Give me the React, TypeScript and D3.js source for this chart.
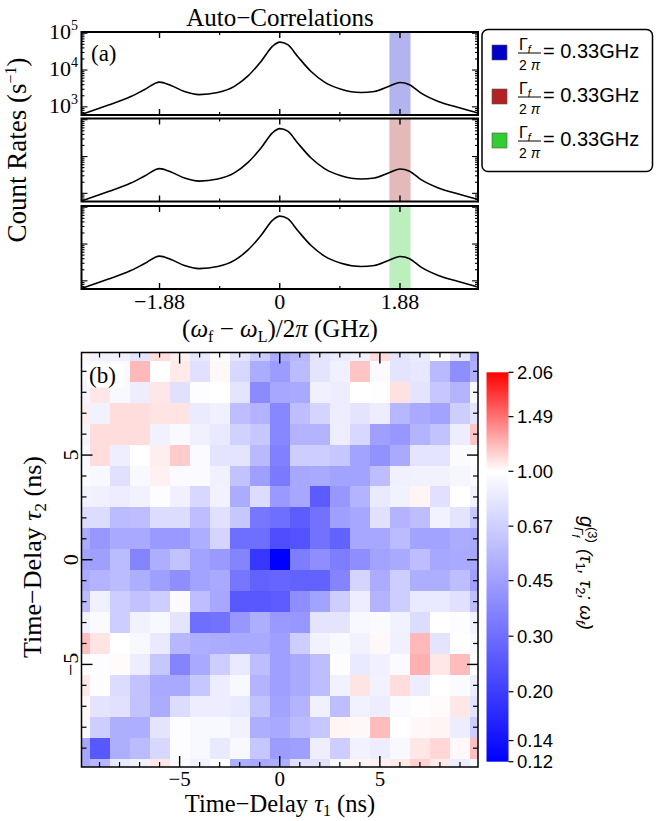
import React from 'react';
import * as d3 from 'd3';

const SERIF = '"Liberation Serif", "Times New Roman", serif';
const SANS = '"Liberation Sans", Arial, sans-serif';

// (a) spectrum: detuning (GHz) vs count rate (1/s)
const detuning = [-3.1, -2.69, -2.33, -2.12, -1.88, -1.7, -1.49, -1.26, -0.97, -0.71, -0.5, -0.29, -0.11, 0, 0.125, 0.28, 0.49, 0.7, 0.96, 1.27, 1.48, 1.69, 1.88, 2.03, 2.21, 2.48, 2.74, 3.1];
const countRate = [620, 1100, 1900, 2900, 4700, 3800, 2600, 2150, 2450, 3600, 6800, 17400, 44700, 57500, 49000, 23400, 9100, 4700, 3000, 2450, 2600, 3500, 4600, 4000, 2350, 1400, 1020, 680];

const filterCenter = 1.88;
const filterWidth = 0.33;
const swatchColors = ['#0000c8', '#b22222', '#33cc33'];
const bandColors = ['#b3b3ee', '#e3b9b9', '#bdeebd'];
const legendValues = ['0.33GHz', '0.33GHz', '0.33GHz'];
const specMajor = [-1.88, 0, 1.88];
const specMajorLabels = ['\u22121.88', '0', '1.88'];
const specMinor = [-0.94, 0.94];
const decades = [1e3, 1e4, 1e5];
const decadeExp = ['3', '4', '5'];

// (b) g3 map: rows tau2 = 10 .. -10, columns tau1 = -10 .. 10
const tau1 = [-10, -9, -8, -7, -6, -5, -4, -3, -2, -1, 0, 1, 2, 3, 4, 5, 6, 7, 8, 9, 10];
const tau2 = [10, 9, 8, 7, 6, 5, 4, 3, 2, 1, 0, -1, -2, -3, -4, -5, -6, -7, -8, -9, -10];
const g3 = [
  [1.03, 0.9, 0.9, 0.8, 1.1, 1.04, 0.82, 0.98, 0.8, 0.65, 0.5, 0.55, 0.8, 0.85, 0.88, 1.1, 0.8, 0.85, 1.0, 0.8, 0.48],
  [0.95, 0.95, 0.95, 1.22, 1.0, 1.06, 0.78, 1.02, 0.72, 0.5, 0.44, 0.57, 0.8, 0.88, 1.18, 0.96, 0.8, 0.82, 0.56, 0.39, 0.52],
  [0.92, 1.07, 0.94, 0.86, 1.07, 0.78, 0.98, 1.0, 0.8, 0.38, 0.48, 0.49, 0.88, 0.86, 1.0, 0.99, 1.09, 0.8, 0.63, 0.53, 0.94],
  [1.05, 0.9, 1.1, 1.1, 1.08, 1.08, 0.85, 0.88, 0.58, 0.53, 0.37, 0.58, 0.7, 0.86, 0.8, 0.86, 0.55, 0.49, 0.46, 0.66, 0.8],
  [0.92, 1.1, 1.1, 1.1, 0.9, 0.95, 0.88, 0.83, 0.68, 0.63, 0.37, 0.53, 0.53, 0.87, 0.72, 0.45, 0.42, 0.53, 0.6, 0.86, 1.18],
  [0.94, 1.1, 0.87, 1.0, 1.05, 1.16, 0.96, 0.8, 0.8, 0.56, 0.35, 0.66, 0.66, 0.63, 0.46, 0.4, 0.49, 0.8, 0.8, 0.96, 1.0],
  [0.96, 0.94, 0.78, 0.94, 1.04, 0.96, 0.96, 0.88, 0.6, 0.45, 0.33, 0.48, 0.49, 0.46, 0.46, 0.58, 0.88, 0.9, 0.9, 0.93, 0.96],
  [0.9, 0.88, 0.86, 0.9, 0.98, 0.88, 0.72, 0.9, 0.5, 0.75, 0.43, 0.48, 0.26, 0.42, 0.53, 0.83, 0.9, 1.03, 0.78, 1.0, 0.9],
  [0.75, 0.75, 0.57, 0.58, 0.75, 0.75, 0.58, 0.78, 0.63, 0.32, 0.3, 0.26, 0.31, 0.45, 0.48, 0.78, 0.53, 0.58, 0.9, 0.8, 0.63],
  [0.5, 0.42, 0.49, 0.49, 0.43, 0.43, 0.51, 0.7, 0.3, 0.3, 0.23, 0.24, 0.31, 0.27, 0.48, 0.48, 0.57, 0.46, 0.46, 0.5, 0.49],
  [0.46, 0.45, 0.57, 0.36, 0.51, 0.6, 0.46, 0.43, 0.36, 0.19, 0.12, 0.34, 0.39, 0.34, 0.39, 0.46, 0.49, 0.58, 0.48, 0.49, 0.48],
  [0.5, 0.53, 0.57, 0.51, 0.45, 0.39, 0.46, 0.49, 0.32, 0.27, 0.28, 0.27, 0.27, 0.36, 0.7, 0.5, 0.66, 0.51, 0.51, 0.58, 0.45],
  [0.57, 0.88, 0.66, 0.6, 0.66, 0.96, 0.58, 0.48, 0.25, 0.25, 0.26, 0.39, 0.46, 0.66, 0.86, 0.53, 0.66, 0.83, 0.83, 0.78, 0.58],
  [0.9, 0.96, 0.66, 0.9, 0.94, 0.8, 0.3, 0.31, 0.42, 0.51, 0.43, 0.42, 0.8, 0.8, 0.94, 0.96, 0.9, 0.75, 1.0, 0.98, 0.9],
  [1.2, 1.08, 1.0, 0.94, 0.83, 0.55, 0.51, 0.5, 0.49, 0.49, 0.45, 0.66, 0.9, 0.94, 0.9, 1.02, 0.88, 1.22, 0.8, 0.99, 0.94],
  [1.0, 0.98, 1.01, 0.86, 0.63, 0.36, 0.49, 0.66, 0.83, 0.58, 0.45, 0.49, 0.58, 0.98, 0.83, 0.88, 0.96, 1.25, 1.07, 1.21, 0.99],
  [1.06, 0.98, 0.75, 0.6, 0.49, 0.49, 0.63, 0.86, 0.94, 0.53, 0.45, 0.49, 0.58, 0.9, 1.08, 0.9, 1.1, 0.86, 1.0, 0.96, 0.86],
  [1.02, 0.8, 0.78, 0.6, 0.5, 0.75, 0.86, 0.86, 0.83, 0.6, 0.46, 0.53, 0.88, 0.58, 0.9, 0.86, 0.96, 0.99, 1.01, 1.07, 0.8],
  [0.94, 0.66, 0.51, 0.51, 0.8, 0.98, 0.94, 0.94, 0.9, 0.51, 0.49, 0.57, 0.63, 1.03, 1.02, 1.21, 1.0, 1.02, 1.03, 0.86, 0.66],
  [0.48, 0.25, 0.51, 0.57, 0.72, 0.98, 0.94, 0.83, 0.94, 0.63, 0.44, 0.45, 0.87, 0.66, 0.9, 0.86, 0.94, 1.07, 1.12, 1.02, 1.2],
  [0.49, 0.55, 0.83, 0.9, 1.07, 0.96, 0.9, 1.0, 0.51, 0.49, 0.51, 0.78, 0.78, 0.94, 1.03, 1.04, 1.06, 1.14, 1.06, 0.86, 0.94],
];
const cbarTicks = [2.06, 1.49, 1.0, 0.67, 0.45, 0.3, 0.2, 0.14, 0.12];
const mapMajor = [-5, 0, 5];
const mapMajorLabels = ['\u22125', '0', '5'];
const mapMinor = [-9, -8, -7, -6, -4, -3, -2, -1, 1, 2, 3, 4, 6, 7, 8, 9];

export default function App() {
  // spectrum panels
  const x = d3.scaleLinear().domain([-3.1, 3.1]).range([81.5, 478]);
  const panelTops = [32, 118.5, 206];
  const panelH = 83;
  const spec = detuning.map((d, i) => [d, countRate[i]] as [number, number]);

  // map
  const hx = d3.scaleLinear().domain([-9.9, 9.9]).range([81.5, 478]);
  const hy = d3.scaleLinear().domain([-9.9, 9.9]).range([767, 352.5]);
  const color = d3.scaleLog<string>().domain([0.12, 1, 2.06]).range(['#0000ff', '#ffffff', '#ff0000']).clamp(true);
  const cy = d3.scaleLog().domain([0.12, 2.06]).range([761.7, 372.3]);
  const whiteStop = (cy(0.12) - cy(1)) / (cy(0.12) - cy(2.06));
  const [mx0, mx1] = hx.range();
  const [my0, my1] = [hy(9.9), hy(-9.9)];

  return (
    <svg width={660} height={821} style={{position: 'absolute', left: 0, top: 0, background: '#fff'}}>
      <defs>
        <clipPath id="mapclip">
          <rect x={mx0} y={my0} width={mx1 - mx0} height={my1 - my0}/>
        </clipPath>
        <linearGradient id="cbar" x1="0" y1="1" x2="0" y2="0">
          <stop offset="0" stopColor={color(0.12)}/>
          <stop offset={whiteStop} stopColor={color(1)}/>
          <stop offset="1" stopColor={color(2.06)}/>
        </linearGradient>
      </defs>

      <text x={280} y={26} textAnchor="middle" fontFamily={SERIF} fontSize={25}>Auto{'\u2212'}Correlations</text>

      {panelTops.map((top, p) => {
        const y = d3.scaleLog().domain([600, 108000]).range([top + panelH, top]);
        const line = d3.line<[number, number]>()
          .x(d => x(d[0]))
          .y(d => y(d[1]))
          .curve(d3.curveMonotoneX);
        const yTicks = y.ticks();
        const bot = top + panelH;
        return (
          <g key={p}>
            <rect x={x(filterCenter - filterWidth / 2)} y={top} width={x(filterCenter + filterWidth / 2) - x(filterCenter - filterWidth / 2)} height={panelH} fill={bandColors[p]}/>
            <path d={line(spec) || ''} fill="none" stroke="#000" strokeWidth={1.6}/>
            {specMajor.map(t => (
              <g key={t}>
                <line x1={x(t)} x2={x(t)} y1={top} y2={top + 6} stroke="#000" strokeWidth={1.4}/>
                <line x1={x(t)} x2={x(t)} y1={bot} y2={bot - 6} stroke="#000" strokeWidth={1.4}/>
              </g>
            ))}
            {specMinor.map(t => (
              <g key={t}>
                <line x1={x(t)} x2={x(t)} y1={top} y2={top + 3} stroke="#000" strokeWidth={1.2}/>
                <line x1={x(t)} x2={x(t)} y1={bot} y2={bot - 3} stroke="#000" strokeWidth={1.2}/>
              </g>
            ))}
            {yTicks.map(t => {
              const major = Math.abs(Math.log10(t) - Math.round(Math.log10(t))) < 1e-9;
              const len = major ? 6 : 3;
              return (
                <g key={t}>
                  <line x1={81.5} x2={81.5 + len} y1={y(t)} y2={y(t)} stroke="#000" strokeWidth={1.1}/>
                  <line x1={478} x2={478 - len} y1={y(t)} y2={y(t)} stroke="#000" strokeWidth={1.1}/>
                </g>
              );
            })}
            <rect x={81.5} y={top} width={478 - 81.5} height={panelH} fill="none" stroke="#000" strokeWidth={2}/>
            {p === 0 && decades.map((d, i) => (
              <text key={d} x={78} y={y(d) + 6} textAnchor="end" fontFamily={SERIF} fontSize={22}>
                10<tspan dy={-9} fontSize={14}>{decadeExp[i]}</tspan>
              </text>
            ))}
            {p === 0 && <text x={91} y={61} fontFamily={SERIF} fontSize={23}>(a)</text>}
          </g>
        );
      })}

      {specMajor.map((t, i) => (
        <text key={t} x={x(t)} y={309} textAnchor="middle" fontFamily={SERIF} fontSize={22}>{specMajorLabels[i]}</text>
      ))}
      <text x={280} y={337} textAnchor="middle" fontFamily={SERIF} fontSize={25}>
        (<tspan fontStyle="italic">ω</tspan><tspan dy={5} fontSize={16}>f</tspan><tspan dy={-5}> {'\u2212'} </tspan><tspan fontStyle="italic">ω</tspan><tspan dy={5} fontSize={16}>L</tspan><tspan dy={-5}>)/2</tspan><tspan fontStyle="italic">π</tspan> (GHz)
      </text>
      <text transform="translate(26,150) rotate(-90)" textAnchor="middle" fontFamily={SERIF} fontSize={27}>
        Count Rates (s<tspan dy={-10} fontSize={16}>{'\u2212'}1</tspan><tspan dy={10}>)</tspan>
      </text>

      {/* legend */}
      <rect x={482} y={29.5} width={170.5} height={142} rx={6} fill="#fff" stroke="#000" strokeWidth={1.5}/>
      {swatchColors.map((c, i) => {
        const oy = i * 44;
        return (
          <g key={i} fontFamily={SANS}>
            <rect x={492} y={45 + oy} width={15} height={15} fill={c} stroke="#555" strokeWidth={0.6}/>
            <text x={519} y={50 + oy} fontSize={16}>Γ<tspan dy={3} fontSize={11} fontStyle="italic">f</tspan></text>
            <line x1={518} x2={541} y1={53 + oy} y2={53 + oy} stroke="#000" strokeWidth={1}/>
            <text x={529.5} y={70 + oy} fontSize={14} textAnchor="middle">2 <tspan fontStyle="italic">π</tspan></text>
            <text x={543} y={58 + oy} fontSize={20}>= {legendValues[i]}</text>
          </g>
        );
      })}

      {/* map */}
      <g clipPath="url(#mapclip)" shapeRendering="crispEdges">
        {g3.map((row, r) => row.map((v, c) => (
          <rect key={r + '-' + c}
            x={hx(tau1[c] - 0.5)} y={hy(tau2[r] + 0.5)}
            width={hx(tau1[c] + 0.5) - hx(tau1[c] - 0.5) + 0.5}
            height={hy(tau2[r] - 0.5) - hy(tau2[r] + 0.5) + 0.5}
            fill={color(v)}/>
        )))}
      </g>
      {mapMajor.map(t => (
        <g key={t} stroke="#000" strokeWidth={1.4}>
          <line x1={hx(t)} x2={hx(t)} y1={my0} y2={my0 + 11}/>
          <line x1={hx(t)} x2={hx(t)} y1={my1} y2={my1 - 11}/>
          <line x1={mx0} x2={mx0 + 11} y1={hy(t)} y2={hy(t)}/>
          <line x1={mx1} x2={mx1 - 11} y1={hy(t)} y2={hy(t)}/>
        </g>
      ))}
      {mapMinor.map(t => (
        <g key={t} stroke="#000" strokeWidth={1.2}>
          <line x1={hx(t)} x2={hx(t)} y1={my0} y2={my0 + 5}/>
          <line x1={hx(t)} x2={hx(t)} y1={my1} y2={my1 - 5}/>
          <line x1={mx0} x2={mx0 + 5} y1={hy(t)} y2={hy(t)}/>
          <line x1={mx1} x2={mx1 - 5} y1={hy(t)} y2={hy(t)}/>
        </g>
      ))}
      <rect x={mx0} y={my0} width={mx1 - mx0} height={my1 - my0} fill="none" stroke="#000" strokeWidth={1.5}/>
      <rect x={87} y={363.5} width={37} height={24} fill="#fff"/>
      <text x={89} y={383} fontFamily={SERIF} fontSize={23}>(b)</text>

      {mapMajor.map((t, i) => (
        <text key={t} x={hx(t)} y={786} textAnchor="middle" fontFamily={SERIF} fontSize={21}>{mapMajorLabels[i]}</text>
      ))}
      {mapMajor.map((t, i) => (
        <text key={t} transform={`translate(78,${hy(t)}) rotate(-90)`} textAnchor="middle" fontFamily={SERIF} fontSize={22}>{mapMajorLabels[i]}</text>
      ))}
      <text x={280} y={812} textAnchor="middle" fontFamily={SERIF} fontSize={24.5}>
        Time{'\u2212'}Delay <tspan fontStyle="italic">τ</tspan><tspan dy={4} fontSize={16}>1</tspan><tspan dy={-4}> (ns)</tspan>
      </text>
      <text transform="translate(41,557) rotate(-90)" textAnchor="middle" fontFamily={SERIF} fontSize={26}>
        Time{'\u2212'}Delay <tspan fontStyle="italic">τ</tspan><tspan dy={5} fontSize={17}>2</tspan><tspan dy={-5}> (ns)</tspan>
      </text>

      {/* colour bar */}
      <rect x={486.5} y={cy(2.06)} width={22} height={cy(0.12) - cy(2.06)} fill="url(#cbar)"/>
      {cbarTicks.map(t => (
        <g key={t}>
          <line x1={508.5} x2={513.5} y1={cy(t)} y2={cy(t)} stroke="#000" strokeWidth={1.2}/>
          <text x={517} y={cy(t)} dy="0.35em" fontFamily={SANS} fontSize={18.5}>{t.toFixed(2)}</text>
        </g>
      ))}
      <g transform="translate(580,516) rotate(90)" fontFamily={SANS} fontStyle="italic">
        <text x={0} y={0} fontSize={20}>g</text>
        <text x={11} y={-8} fontSize={13} fontStyle="normal">(3)</text>
        <text x={11} y={6} fontSize={13}>Γ<tspan dy={2} fontSize={10}>f</tspan></text>
        <text x={33} y={0} fontSize={19}>(τ<tspan dy={4} fontSize={13} fontStyle="normal">1</tspan><tspan dy={-4}>, τ</tspan><tspan dy={4} fontSize={13} fontStyle="normal">2</tspan><tspan dy={-4}>; ω</tspan><tspan dy={4} fontSize={13}>f</tspan><tspan dy={-4}>)</tspan></text>
      </g>
    </svg>
  );
}
